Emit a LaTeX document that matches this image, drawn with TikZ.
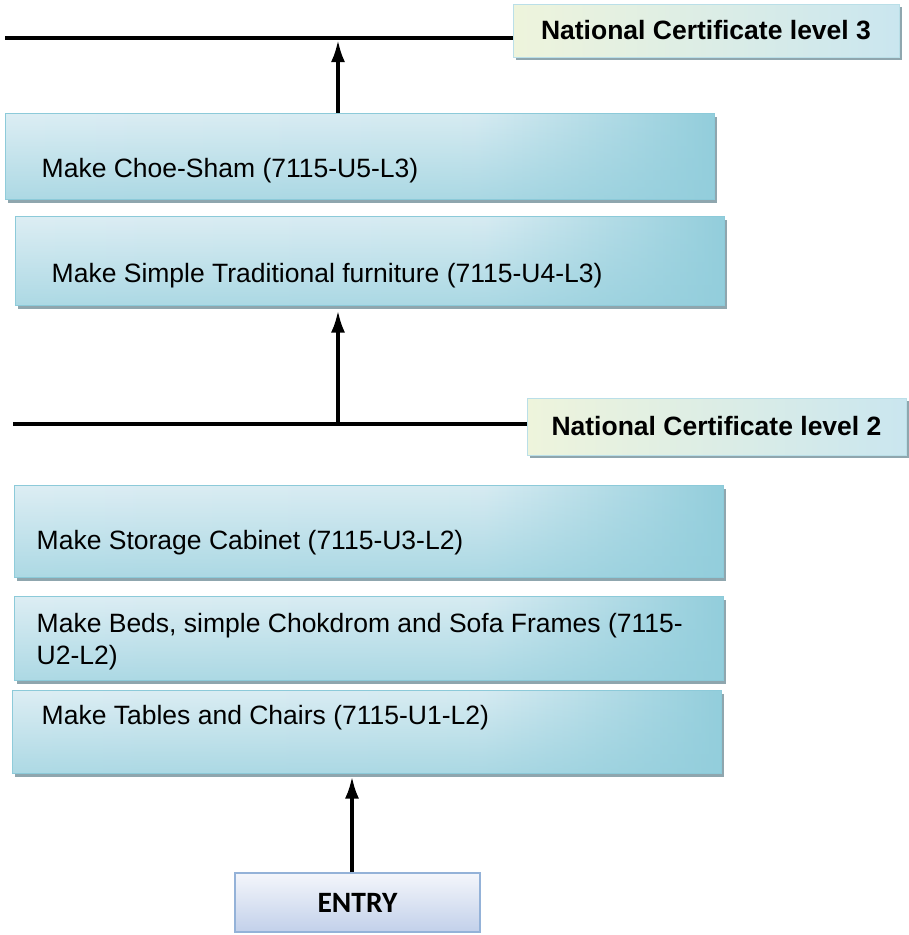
\documentclass[tikz,border=0pt]{standalone}
\usepackage{fontspec}
\setmainfont{Liberation Sans}
\newfontfamily\entryfont{Carlito}
\usepackage{tikz}
\usetikzlibrary{shapes, arrows.meta, shadows, fadings, positioning}

\definecolor{unitlight}{HTML}{DDEEF4}
\definecolor{unitdark}{HTML}{93CEDC}
\definecolor{unitedge}{HTML}{8CCAD9}
\definecolor{unitshadow}{HTML}{8FA6AE}
\definecolor{certleft}{HTML}{EEF4DC}
\definecolor{certright}{HTML}{CAE6EF}
\definecolor{entrytop}{HTML}{F4F6FB}
\definecolor{entrybottom}{HTML}{C2D0EA}
\definecolor{entryedge}{HTML}{94B2D8}

\pgfdeclarehorizontalshading{unitshade}{100bp}{color(0bp)=(unitlight);
  color(25bp)=(unitlight); color(58bp)=(unitlight!92!unitdark);
  color(75bp)=(unitdark); color(100bp)=(unitdark)}
\tikzfading[name = unitfade, top color = transparent!100,
  middle color = transparent!100, bottom color = transparent!35]

\tikzstyle{unit} = [
  rectangle, minimum width = 709, minimum height = 86,
  draw = unitedge, line width = 1, shading = unitshade,
  postaction = {fill = unitdark, path fading = unitfade},
  drop shadow = {shadow xshift = 3, shadow yshift = -4, fill = unitshadow,
    opacity = 1}
]
\tikzstyle{unittext} = [anchor = west, inner sep = 0, align = left,
  font = \fontsize{26.5}{32}\selectfont]
\tikzstyle{cert} = [
  rectangle, minimum width = 386, minimum height = 53,
  draw = unitedge!60, line width = 1, left color = certleft,
  right color = certright, font = \bfseries\fontsize{26.5}{32}\selectfont,
  drop shadow = {shadow xshift = 3, shadow yshift = -3, fill = unitshadow,
    opacity = 1}
]
\tikzstyle{entrybox} = [rectangle, minimum width = 245, minimum height = 59,
  draw = entryedge, line width = 1.5, top color = entrytop,
  bottom color = entrybottom,
  font = \entryfont\bfseries\fontsize{29.5}{34}\selectfont]
\tikzstyle{rail} = [line width = 4.5]
\tikzstyle{flow} = [line width = 3.5, ->]

\begin{document}
\begin{tikzpicture}[x = 1pt, y = 1pt, node distance = 0,
    >={Latex[length = 22pt, width = 14pt]}]
      \useasboundingbox (0, 0) rectangle (909, -935);
      % level 3
      \node [cert] (cert-3) at (706, -30.5) {National Certificate level 3};
      \node [unit] (unit-5) at (359.5, -156) {};
      \node [unit, below of = unit-5, xshift = 10, yshift = -104.5,
        minimum height = 89] (unit-4) {};
      % level 2
      \node [cert, below of = cert-3, xshift = 10.5, yshift = -396,
        minimum width = 379, minimum height = 57] (cert-2)
        {National Certificate level 2};
      \node [unit, below of = unit-4, xshift = -1, yshift = -270.5,
        minimum height = 92] (unit-3) {};
      \node [unit, below of = unit-3, yshift = -107, minimum height = 84]
        (unit-2) {};
      \node [unit, below of = unit-2, xshift = -2, yshift = -93.5,
        minimum height = 83] (unit-1) {};
      % entry
      \node [entrybox, below of = unit-1, xshift = -9, yshift = -171] (entry)
        {ENTRY};

      % labels
      \node [unittext] (unit-5-text) at ([xshift = 37, yshift = -15] unit-5.west)
        {Make Choe-Sham (7115-U5-L3)};
      \node [unittext] (unit-4-text) at ([xshift = 37, yshift = -15.5] unit-4.west)
        {Make Simple Traditional furniture (7115-U4-L3)};
      \node [unittext] (unit-3-text) at ([xshift = 23, yshift = -12] unit-3.west)
        {Make Storage Cabinet (7115-U3-L2)};
      \node [unittext] (unit-2-text) at ([xshift = 23, yshift = -4] unit-2.west)
        {Make Beds, simple Chokdrom and Sofa Frames (7115-\\U2-L2)};
      \node [unittext] (unit-1-text) at ([xshift = 30, yshift = 13.5] unit-1.west)
        {Make Tables and Chairs (7115-U1-L2)};

      % rails
      \coordinate (rail-3-w) at (5, -38);
      \coordinate (rail-2-w) at (13, -424);
      \coordinate (join-3) at (338, -38);
      \coordinate (join-2) at (338, -424);
      \draw [rail] (rail-3-w) -- (rail-3-w -| cert-3.west);
      \draw [rail] (rail-2-w) -- (rail-2-w -| cert-2.west);

      \draw [flow, shorten > = 2] (join-3 |- unit-5.north) -- (join-3);
      \draw [flow, shorten > = 5] (join-2) -- (join-2 |- unit-4.south);
      \draw [flow, shorten > = 3] ([xshift = -5.5] entry.north)
        -- ([xshift = -5.5] entry.north |- unit-1.south);
    \end{tikzpicture}
\end{document}
